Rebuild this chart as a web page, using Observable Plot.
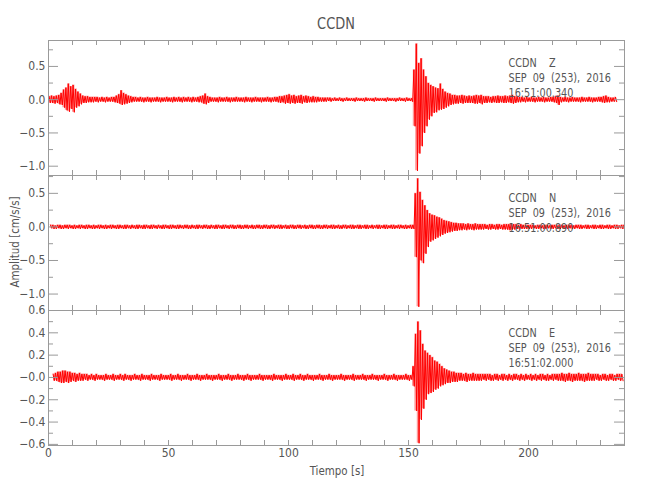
<!DOCTYPE html>
<html>
<head>
<meta charset="utf-8">
<script src="https://cdn.jsdelivr.net/npm/d3@7"></script>
<script src="https://cdn.jsdelivr.net/npm/@observablehq/plot@0.6"></script>
<style>
  body { margin: 0; background: #fff; }
  #wrap { position: relative; width: 650px; height: 500px; color: #555;
          font-family: "Liberation Sans Narrow", "DejaVu Sans Condensed", "Liberation Sans", sans-serif; }
  #wrap svg { position: absolute; left: 0; overflow: visible; }
  #wrap svg text, #wrap svg tspan { white-space: pre; }
  .lbl { position: absolute; white-space: pre; line-height: 1; color: #555; }
</style>
</head>
<body>
<div id="wrap"></div>
<script>
// ---------------- DATA ----------------
const title = "CCDN";
const xLabel = "Tiempo [s]";
const yLabel = "Amplitud [cm/s/s]";
const xDomain = [0, 240];
const xLabelTicks = [0, 50, 100, 150, 200];
const xMinorTicks = [10,20,30,40,50,60,70,80,90,100,110,120,130,140,150,160,170,180,190,200,210,220,230];

// start time of each trace (s), from the header times 16:51:00.340 / 00.890 / 02.000
const startZ = 0.00, startN = 0.55, startE = 1.66;

const stampZ = "CCDN    Z\nSEP  09  (253),  2016\n16:51:00.340";
const stampN = "CCDN    N\nSEP  09  (253),  2016\n16:51:00.890";
const stampE = "CCDN    E\nSEP  09  (253),  2016\n16:51:02.000";

const yDomainZ = [-1.14, 0.89];
const yDomainN = [-1.245, 0.766];
const yDomainE = [-0.61, 0.60];

const yTicksZ = [0.5, 0, -0.5, -1.0];
const yLabelsZ = ["0.5", "0.0", "\u22120.5", "\u22121.0"];
const yMinorZ = [0.75, 0.25, -0.25, -0.75];
const yTicksN = [0.5, 0, -0.5, -1.0];
const yLabelsN = ["0.5", "0.0", "\u22120.5", "\u22121.0"];
const yMinorN = [0.75, 0.25, -0.25, -0.75];
const yTicksE = [0.6, 0.4, 0.2, 0, -0.2, -0.4, -0.6];
const yLabelsE = ["0.6", "0.4", "0.2", "\u22120.0", "\u22120.2", "\u22120.4", "\u22120.6"];
const yMinorE = [0.5, 0.3, 0.1, -0.1, -0.3, -0.5];

// per-second envelope of each trace (max / min in cm/s/s)
const zHi = [
 .05,.06,.05,.06,.07,.10,.15,.18,.24,.20,
 .22,.16,.12,.09,.06,.05,.05,.04,.04,.04,
 .04,.03,.04,.03,.04,.03,.04,.04,.06,.08,
 .14,.10,.08,.06,.05,.04,.04,.03,.04,.03,
 .03,.04,.03,.03,.03,.04,.03,.03,.03,.04,
 .03,.03,.04,.03,.04,.03,.04,.03,.04,.03,
 .04,.03,.04,.05,.06,.09,.05,.04,.03,.03,
 .03,.04,.03,.03,.04,.03,.03,.03,.04,.03,
 .03,.03,.04,.03,.03,.03,.04,.03,.03,.03,
 .03,.04,.03,.03,.04,.04,.05,.05,.06,.07,
 .08,.06,.07,.05,.06,.07,.05,.06,.05,.04,
 .05,.04,.04,.03,.03,.03,.03,.03,.02,.03,
 .02,.03,.02,.02,.03,.02,.02,.02,.03,.02,
 .02,.02,.03,.02,.02,.02,.03,.02,.02,.02,
 .02,.03,.02,.02,.02,.02,.03,.02,.02,.03,
 .02,.02,.45,.84,.55,.62,.45,.35,.25,.22,
 .20,.18,.17,.24,.16,.12,.10,.09,.07,.07,
 .06,.06,.07,.06,.05,.06,.05,.06,.07,.06,
 .07,.05,.05,.05,.04,.05,.05,.06,.05,.05,
 .06,.05,.06,.07,.05,.05,.04,.04,.03,.04,
 .03,.04,.03,.03,.04,.03,.04,.03,.03,.04,
 .04,.05,.06,.04,.03,.04,.03,.03,.04,.03,
 .03,.03,.04,.03,.03,.04,.03,.03,.03,.04,
 .04,.05,.06,.04,.03,.03,.04
];
const zLo = [
 -.05,-.05,-.06,-.05,-.07,-.08,-.12,-.16,-.18,-.14,
 -.19,-.12,-.10,-.07,-.05,-.05,-.04,-.04,-.04,-.03,
 -.04,-.03,-.03,-.04,-.03,-.03,-.03,-.04,-.05,-.06,
 -.08,-.07,-.06,-.05,-.04,-.03,-.03,-.03,-.03,-.04,
 -.03,-.03,-.04,-.03,-.03,-.03,-.04,-.03,-.03,-.03,
 -.03,-.04,-.03,-.03,-.03,-.04,-.03,-.03,-.03,-.04,
 -.03,-.03,-.04,-.04,-.06,-.07,-.05,-.03,-.03,-.03,
 -.04,-.03,-.03,-.03,-.03,-.04,-.03,-.03,-.03,-.03,
 -.03,-.04,-.03,-.03,-.04,-.03,-.03,-.03,-.04,-.03,
 -.03,-.03,-.04,-.03,-.03,-.04,-.05,-.04,-.06,-.05,
 -.06,-.05,-.06,-.05,-.05,-.06,-.04,-.05,-.04,-.04,
 -.04,-.04,-.03,-.03,-.03,-.03,-.02,-.03,-.02,-.02,
 -.02,-.02,-.03,-.02,-.02,-.02,-.02,-.03,-.02,-.02,
 -.02,-.03,-.02,-.02,-.02,-.03,-.02,-.02,-.02,-.02,
 -.03,-.02,-.02,-.02,-.03,-.02,-.02,-.02,-.03,-.02,
 -.02,-.03,-.40,-1.07,-.81,-.70,-.50,-.40,-.30,-.25,
 -.20,-.19,-.16,-.15,-.14,-.12,-.10,-.08,-.07,-.06,
 -.06,-.05,-.06,-.05,-.05,-.05,-.05,-.06,-.06,-.05,
 -.07,-.05,-.05,-.04,-.05,-.04,-.05,-.05,-.04,-.05,
 -.05,-.04,-.05,-.06,-.05,-.04,-.04,-.03,-.04,-.03,
 -.03,-.03,-.04,-.03,-.03,-.03,-.04,-.03,-.03,-.03,
 -.04,-.05,-.08,-.04,-.03,-.03,-.04,-.03,-.03,-.03,
 -.03,-.04,-.03,-.03,-.03,-.03,-.04,-.03,-.03,-.03,
 -.04,-.05,-.04,-.04,-.03,-.03,-.03
];
const nHi = [
 .03,.03,.02,.03,.03,.02,.03,.03,.03,.02,
 .03,.02,.03,.03,.02,.03,.03,.02,.03,.02,
 .03,.03,.02,.03,.02,.03,.03,.02,.03,.03,
 .02,.03,.03,.02,.03,.02,.03,.03,.02,.03,
 .03,.02,.03,.03,.02,.03,.02,.03,.03,.02,
 .03,.03,.02,.03,.03,.02,.03,.03,.02,.03,
 .02,.03,.03,.02,.03,.03,.02,.03,.02,.03,
 .03,.02,.03,.03,.02,.03,.03,.02,.03,.03,
 .02,.03,.03,.02,.03,.02,.03,.03,.02,.03,
 .03,.02,.03,.03,.02,.03,.03,.02,.03,.02,
 .03,.03,.02,.03,.03,.02,.03,.02,.03,.03,
 .02,.03,.03,.02,.03,.03,.02,.03,.03,.02,
 .03,.02,.03,.03,.02,.03,.03,.02,.03,.03,
 .02,.03,.03,.02,.03,.02,.03,.03,.02,.03,
 .03,.02,.03,.03,.02,.03,.03,.02,.03,.02,
 .03,.03,.50,.72,.52,.40,.32,.25,.20,.18,
 .17,.15,.14,.12,.10,.09,.08,.07,.06,.06,
 .05,.05,.05,.04,.05,.04,.04,.05,.04,.04,
 .04,.04,.03,.04,.04,.03,.04,.04,.03,.04,
 .04,.04,.05,.04,.04,.03,.04,.03,.03,.03,
 .03,.03,.02,.03,.03,.02,.03,.03,.02,.03,
 .03,.02,.03,.03,.02,.03,.03,.03,.02,.03,
 .03,.03,.02,.03,.03,.02,.03,.03,.02,.03,
 .03,.02,.03,.03,.02,.03,.03,.02,.03,.03
];
const nLo = [
 -.02,-.03,-.03,-.02,-.03,-.03,-.02,-.03,-.02,-.03,
 -.03,-.02,-.03,-.02,-.03,-.03,-.02,-.03,-.03,-.02,
 -.03,-.02,-.03,-.03,-.02,-.03,-.02,-.03,-.03,-.02,
 -.03,-.03,-.02,-.03,-.02,-.03,-.03,-.02,-.03,-.03,
 -.02,-.03,-.03,-.02,-.03,-.02,-.03,-.03,-.02,-.03,
 -.03,-.02,-.03,-.03,-.02,-.03,-.02,-.03,-.03,-.02,
 -.03,-.03,-.02,-.03,-.02,-.03,-.03,-.02,-.03,-.03,
 -.02,-.03,-.03,-.02,-.03,-.02,-.03,-.03,-.02,-.03,
 -.03,-.02,-.03,-.02,-.03,-.03,-.02,-.03,-.03,-.02,
 -.03,-.03,-.02,-.03,-.02,-.03,-.03,-.02,-.03,-.03,
 -.02,-.03,-.03,-.02,-.03,-.02,-.03,-.03,-.02,-.03,
 -.03,-.02,-.03,-.03,-.02,-.03,-.02,-.03,-.03,-.02,
 -.03,-.03,-.02,-.03,-.02,-.03,-.03,-.02,-.03,-.03,
 -.02,-.03,-.03,-.02,-.03,-.02,-.03,-.03,-.02,-.03,
 -.03,-.02,-.03,-.03,-.02,-.03,-.02,-.03,-.03,-.02,
 -.03,-.03,-.45,-1.19,-.50,-.54,-.40,-.30,-.22,-.20,
 -.18,-.16,-.14,-.12,-.10,-.09,-.08,-.07,-.06,-.06,
 -.05,-.05,-.04,-.05,-.04,-.04,-.05,-.04,-.04,-.04,
 -.04,-.03,-.04,-.04,-.03,-.04,-.04,-.03,-.04,-.04,
 -.04,-.05,-.04,-.04,-.03,-.04,-.03,-.03,-.03,-.03,
 -.03,-.02,-.03,-.03,-.02,-.03,-.03,-.02,-.03,-.03,
 -.02,-.03,-.03,-.02,-.03,-.03,-.02,-.03,-.03,-.02,
 -.03,-.03,-.02,-.03,-.03,-.02,-.03,-.03,-.02,-.03,
 -.03,-.02,-.03,-.03,-.02,-.03,-.03,-.02,-.03,-.03
];
const eHi = [
 .03,.04,.05,.05,.06,.06,.05,.05,.04,.04,
 .03,.04,.03,.03,.03,.02,.03,.02,.03,.02,
 .02,.02,.03,.02,.02,.03,.02,.02,.03,.02,
 .03,.02,.02,.02,.03,.02,.02,.03,.02,.02,
 .02,.03,.02,.02,.02,.03,.02,.02,.02,.03,
 .02,.02,.03,.02,.02,.02,.03,.02,.02,.02,
 .03,.02,.02,.02,.03,.02,.02,.02,.02,.03,
 .02,.02,.02,.03,.02,.02,.02,.03,.02,.02,
 .02,.03,.02,.02,.02,.02,.03,.02,.02,.02,
 .02,.02,.03,.02,.02,.02,.02,.03,.02,.02,
 .03,.02,.02,.03,.02,.02,.03,.02,.02,.02,
 .02,.03,.02,.02,.02,.03,.02,.02,.02,.02,
 .03,.02,.02,.02,.02,.03,.02,.02,.02,.03,
 .02,.02,.02,.03,.02,.02,.02,.02,.03,.02,
 .02,.02,.03,.02,.02,.02,.02,.03,.02,.02,
 .10,.39,.50,.42,.30,.24,.22,.20,.18,.15,
 .14,.12,.10,.08,.07,.06,.05,.05,.04,.04,
 .04,.03,.04,.03,.03,.04,.03,.03,.03,.03,
 .03,.03,.03,.02,.03,.03,.02,.03,.03,.02,
 .03,.02,.03,.03,.02,.03,.02,.03,.02,.03,
 .02,.03,.02,.03,.03,.02,.03,.02,.03,.03,
 .03,.03,.04,.03,.03,.04,.03,.03,.03,.04,
 .03,.03,.03,.04,.03,.03,.03,.03,.02,.03,
 .03,.02,.03,.03,.02,.03,.03,.03
];
const eLo = [
 -.03,-.03,-.04,-.05,-.05,-.04,-.05,-.04,-.03,-.04,
 -.03,-.03,-.03,-.02,-.03,-.02,-.02,-.03,-.02,-.02,
 -.02,-.03,-.02,-.02,-.02,-.03,-.02,-.02,-.02,-.03,
 -.02,-.02,-.03,-.02,-.02,-.02,-.03,-.02,-.02,-.02,
 -.03,-.02,-.02,-.02,-.03,-.02,-.02,-.02,-.02,-.03,
 -.02,-.02,-.02,-.03,-.02,-.02,-.02,-.03,-.02,-.02,
 -.02,-.03,-.02,-.02,-.02,-.02,-.03,-.02,-.02,-.02,
 -.03,-.02,-.02,-.02,-.03,-.02,-.02,-.02,-.02,-.03,
 -.02,-.02,-.03,-.02,-.02,-.02,-.02,-.03,-.02,-.02,
 -.02,-.03,-.02,-.02,-.02,-.03,-.02,-.02,-.02,-.02,
 -.03,-.02,-.02,-.02,-.03,-.02,-.02,-.02,-.03,-.02,
 -.02,-.02,-.03,-.02,-.02,-.02,-.03,-.02,-.02,-.02,
 -.02,-.03,-.02,-.02,-.02,-.03,-.02,-.02,-.02,-.02,
 -.03,-.02,-.02,-.02,-.02,-.03,-.02,-.02,-.02,-.03,
 -.02,-.02,-.02,-.03,-.02,-.02,-.02,-.02,-.03,-.02,
 -.08,-.30,-.59,-.38,-.28,-.20,-.15,-.14,-.13,-.11,
 -.10,-.08,-.07,-.06,-.05,-.05,-.04,-.04,-.04,-.03,
 -.03,-.03,-.04,-.03,-.03,-.03,-.03,-.03,-.03,-.02,
 -.03,-.02,-.03,-.03,-.02,-.03,-.02,-.03,-.02,-.03,
 -.02,-.03,-.02,-.02,-.03,-.02,-.03,-.02,-.02,-.03,
 -.02,-.03,-.02,-.03,-.02,-.03,-.03,-.02,-.03,-.02,
 -.03,-.03,-.03,-.04,-.03,-.03,-.04,-.03,-.03,-.03,
 -.03,-.04,-.03,-.03,-.03,-.03,-.02,-.03,-.03,-.02,
 -.03,-.03,-.02,-.03,-.03,-.02,-.03,-.03
];

// ---------------- DRAWING ----------------
const FONT = '"Liberation Sans Narrow", "DejaVu Sans Condensed", "Liberation Sans", sans-serif';
const wrap = document.getElementById("wrap");
const frameW = 576, frameH = 135, pad = 2;
const gray = "#9a9a9a", ink = "#555";

function bins(start, hi, lo) {
  return hi.map((h, i) => ({t: start + i + 0.5, hi: h, lo: lo[i]}));
}
function trace(start, hi, lo) {
  // each one-second bin: its maximum then its minimum
  return hi.flatMap((h, i) => [{t: start + i + 0.25, v: h}, {t: start + i + 0.75, v: lo[i]}]);
}

function panel(top, start, hi, lo, yDomain, yTicks, yLabels, yMinor, stamp, bottom) {
  const marks = [
    Plot.areaY(bins(start, hi, lo), {x: "t", y1: "lo", y2: "hi", curve: "step", fill: "#ff0000", fillOpacity: 0.4, clip: true}),
    Plot.line(trace(start, hi, lo), {x: "t", y: "v", stroke: "#ff0000", strokeWidth: 1, clip: true}),
    Plot.frame({stroke: gray}),
    Plot.tickY(yTicks, {y: d => d, stroke: gray, insetRight: frameW - 10}),
    Plot.tickY(yTicks, {y: d => d, stroke: gray, insetLeft: frameW - 10}),
    Plot.tickY(yMinor, {y: d => d, stroke: gray, insetRight: frameW - 5}),
    Plot.tickY(yMinor, {y: d => d, stroke: gray, insetLeft: frameW - 5}),
    Plot.tickX(xMinorTicks, {x: d => d, stroke: gray, insetBottom: frameH - 5}),
    Plot.tickX(xMinorTicks, {x: d => d, stroke: gray, insetTop: frameH - 5}),
    Plot.axisY(yTicks, {tickSize: 0, tickPadding: 3, label: null, fontSize: 12, fill: ink,
      tickFormat: d => yLabels[yTicks.indexOf(d)]}),
    Plot.text([stamp], {text: d => d, frameAnchor: "top-left", dx: 460, dy: 37, lineAnchor: "middle",
      textAnchor: "start", lineHeight: 15 / 12.5, fontSize: 12.5, fill: ink})
  ];
  if (bottom) marks.push(Plot.axisX(xLabelTicks, {tickSize: 0, tickPadding: 3, label: null, fontSize: 12, fill: ink}));
  const svg = Plot.plot({
    width: 650,
    height: frameH + pad + (bottom ? 30 : pad),
    marginLeft: 48, marginRight: 26, marginTop: pad, marginBottom: bottom ? 30 : pad,
    x: {domain: xDomain, axis: bottom ? undefined : null},
    y: {domain: yDomain},
    style: {fontFamily: FONT, background: "transparent", overflow: "visible", color: ink},
    marks
  });
  // narrow the header lettering like the original plotting font
  svg.querySelectorAll("text").forEach(el => {
    if (!el.textContent.includes("SEP")) return;
    const tr = el.getAttribute("transform");
    if (tr) {
      el.setAttribute("transform", tr + " scale(0.86,1)");
    } else {
      const x = +(el.getAttribute("x") || 0), y = +(el.getAttribute("y") || 0);
      el.removeAttribute("x"); el.removeAttribute("y");
      el.setAttribute("transform", `translate(${x},${y}) scale(0.86,1)`);
    }
  });
  svg.style.top = (top - pad) + "px";
  wrap.appendChild(svg);
}

panel(40, startZ, zHi, zLo, yDomainZ, yTicksZ, yLabelsZ, yMinorZ, stampZ, false);
panel(175, startN, nHi, nLo, yDomainN, yTicksN, yLabelsN, yMinorN, stampN, false);
panel(310, startE, eHi, eLo, yDomainE, yTicksE, yLabelsE, yMinorE, stampE, true);

function label(text, css) {
  const d = document.createElement("div");
  d.className = "lbl";
  d.textContent = text;
  Object.assign(d.style, css);
  wrap.appendChild(d);
}
label(title, {left: "336px", top: "24px", fontSize: "16px", transform: "translate(-50%,-50%) scaleX(0.9)"});
label(xLabel, {left: "337px", top: "470px", fontSize: "13px", transform: "translate(-50%,-50%) scaleX(0.88)"});
label(yLabel, {left: "14px", top: "242px", fontSize: "13px", transform: "translate(-50%,-50%) rotate(-90deg) scaleX(0.88)"});
</script>
</body>
</html>
